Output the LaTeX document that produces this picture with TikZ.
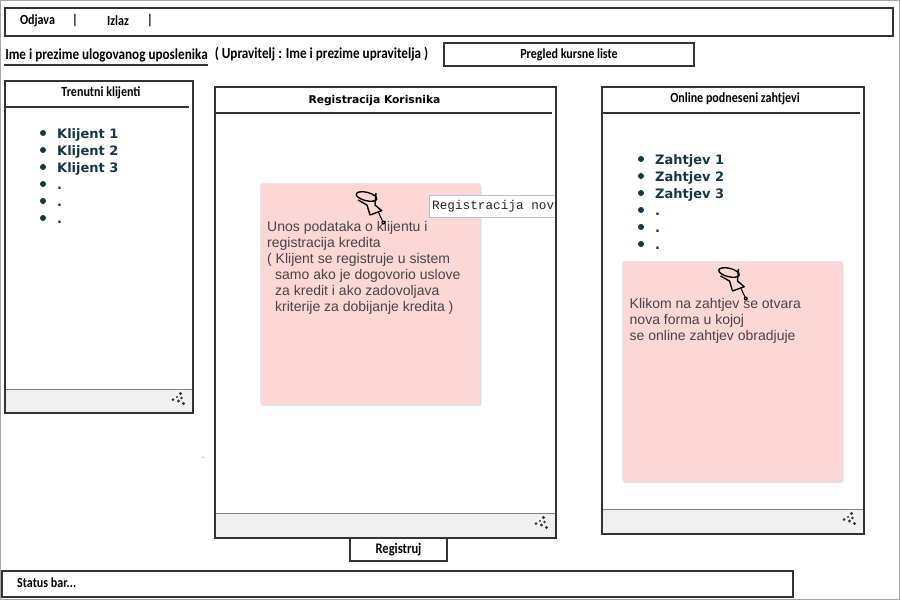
\documentclass[tikz,border=0pt]{standalone}
\usepackage{fontspec}
\usetikzlibrary{shadows}
\newfontfamily\skfont[FakeStretch=0.86]{Carlito}
\newfontfamily\djfont{DejaVu Sans}
\newfontfamily\lsfont{Liberation Sans}
\newfontfamily\lmfont{Liberation Mono}
\definecolor{inkc}{HTML}{333333}
\definecolor{notec}{HTML}{FDD6D6}
\definecolor{notetxt}{HTML}{4A4448}
\definecolor{listc}{HTML}{17363F}
\definecolor{footc}{HTML}{F0F0F0}
\definecolor{tbc}{HTML}{A9C4D6}
\tikzset{
  x=1pt,y=-1pt,
  box/.style={draw=inkc,line width=1.25pt,fill=white},
  footer/.style={draw=black!50,line width=.8pt,fill=footc},
  rule/.style={draw=inkc,line width=1.5pt},
  sk/.style={inner sep=0pt,text=black,font=\skfont\bfseries\fontsize{14}{16}\selectfont},
  skb/.style={inner sep=0pt,text=black,font=\skfont\bfseries\fontsize{15.3}{17}\selectfont},
  btn/.style={sk,draw=inkc,line width=1.3pt,fill=white,anchor=center},
  lst/.style={inner sep=0pt,anchor=base west,text=listc,font=\djfont\bfseries\fontsize{13}{15}\selectfont},
  bul/.style={circle,fill=listc,inner sep=0pt,minimum size=6pt},
  note/.style={draw=black!12,line width=.5pt,fill=notec,rounded corners=2.5pt,drop shadow={opacity=.22,shadow xshift=1pt,shadow yshift=-1.5pt}},
  notetext/.style={inner sep=0pt,anchor=north west,align=left,text=notetxt,font=\lsfont\fontsize{14}{16}\selectfont},
  pin/.style={draw=black,line width=1.4pt,line join=round},
}
\newcommand{\gripdots}[1]{%
  \begin{scope}[shift={#1}]
    \fill[inkc] (1.5,-5.5) circle[radius=1.6];
    \fill[inkc] (-2,-2) circle[radius=1.2];
    \fill[inkc] (2.5,-1) circle[radius=1.3];
    \fill[inkc] (-6,0.5) circle[radius=1.5];
    \fill[inkc] (-0.5,2) circle[radius=1.6];
    \fill[inkc] (4.5,4.5) circle[radius=1.6];
  \end{scope}}
\newcommand{\pushpin}[1]{%
  \begin{scope}[shift={#1}]
    \draw[pin] (0,0) ellipse[x radius=10.5,y radius=4.2,rotate=-14];
    \draw[pin] (-8.5,3.5) -- (0.5,8.5) -- (3.5,18.5) -- (15.2,14.2) -- (8.5,8.5) -- (9.5,-3.5);
    \draw[line width=1pt] (12,16) -- (16.5,25.5);
    \fill (16.8,26) circle[radius=2];
    \fill[notec] (16.8,26) circle[radius=.6];
  \end{scope}}
\begin{document}
\begin{tikzpicture}
\useasboundingbox (0,0) rectangle (900,600);
\fill[white] (0,0) rectangle (900,600);
\draw[draw=black!35,line width=1pt] (.5,.5) rectangle (899.5,599.5);

% top bar
\draw[box,line width=1.5pt] (5,8) rectangle (893,36);
\node[sk] (odjava) at (37.5,20.5) {Odjava};
\node[sk] (sep1) at (75,21) {|};
\node[sk] (izlaz) at (118,20.5) {Izlaz};
\node[sk] (sep2) at (150,21) {|};

% user line
\node[skb] (user) at (106.5,55) {Ime i prezime ulogovanog uposlenika};
\draw[rule] (4,65) -- (208,65);
\node[skb] (mgr) at (321.5,54) {( Upravitelj : Ime i prezime upravitelja )};
\node[btn,minimum width=250pt,minimum height=23pt] (kursna) at (569,54.5) {Pregled kursne liste};

% left panel
\draw[box] (5,81) rectangle (193,413);
\draw[rule] (5,107) -- (189,107);
\node[sk] (t1) at (101,93) {Trenutni klijenti};
\draw[footer] (5,389) rectangle (193,413);
\draw[draw=inkc,line width=1.25pt] (193,387) -- (193,413) -- (5,413) -- (5,389);
\gripdots{(179,399)}
\foreach \y/\t [count=\i] in {133/Klijent 1,150/Klijent 2,167/Klijent 3,184/.,201/.,218/.}{
  \node[bul] (lb\i) at (43,\y) {};
  \node[lst] (lt\i) at (57,\y+5.5) {\t};
}

% centre panel
\draw[box] (215,87) rectangle (556,538);
\draw[rule] (215,113) -- (552,113);
\node[inner sep=0pt,text=black,font=\djfont\bfseries\fontsize{10.7}{12}\selectfont] (t2) at (374.5,100.5) {Registracija Korisnika};
\draw[footer] (215,513) rectangle (556,538);
\draw[draw=inkc,line width=1.25pt] (556,511) -- (556,538) -- (215,538) -- (215,513);
\gripdots{(542,523)}

\fill[black] (203,457) circle[radius=.5];

\path[note] (260.5,183.5) rectangle (480.5,404.5);
\node[notetext] (n1) at (267,221) {Unos podataka o klijentu i\\registracija kredita\\( Klijent se registruje u sistem\\\hspace*{8pt}samo ako je dogovorio uslove\\\hspace*{8pt}za kredit i ako zadovoljava\\\hspace*{8pt}kriterije za dobijanje kredita )};
\begin{scope}
  \clip (428,194) rectangle (554,218);
  \draw[draw=tbc,line width=1pt,fill=white] (429,195) rectangle (570,217);
  \node[inner sep=0pt,anchor=base west,text=black!85,font=\lmfont\fontsize{12.7}{15}\selectfont] (reg) at (432,209) {Registracija nova};
\end{scope}
\pushpin{(366.5,196.5)}

% right panel
\draw[box] (602,87) rectangle (864,534);
\draw[rule] (602,113) -- (860,113);
\node[sk] (t3) at (735,99) {Online podneseni zahtjevi};
\draw[footer] (602,509) rectangle (864,534);
\draw[draw=inkc,line width=1.25pt] (864,507) -- (864,534) -- (602,534) -- (602,509);
\gripdots{(850,519)}
\foreach \y/\t [count=\i] in {159/Zahtjev 1,176/Zahtjev 2,193/Zahtjev 3,210/.,227/.,244/.}{
  \node[bul] (rb\i) at (641,\y) {};
  \node[lst] (rt\i) at (655,\y+5.5) {\t};
}
\path[note] (622.5,261.5) rectangle (842.5,481.5);
\node[notetext] (n2) at (629.5,298) {Klikom na zahtjev se otvara\\nova forma u kojoj\\se online zahtjev obradjuje};
\pushpin{(729,272.5)}

% bottom
\node[btn,font=\skfont\bfseries\fontsize{14.6}{16}\selectfont,minimum width=97pt,minimum height=23pt] (registruj) at (398.5,549.5) {Registruj};
\draw[box,line width=1.5pt] (2,571) rectangle (793,597);
\node[sk,anchor=west] (status) at (17,583) {Status bar...};
\end{tikzpicture}
\end{document}
